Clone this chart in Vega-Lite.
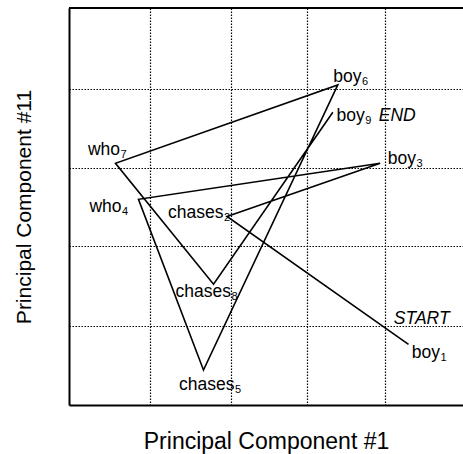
{
  "$schema": "https://vega.github.io/schema/vega-lite/v6.json",
  "width": 394,
  "height": 397,
  "autosize": "none",
  "padding": {"left": 69, "top": 8, "right": 0, "bottom": 49},
  "background": "white",
  "config": {"view": {"stroke": null}, "font": "Liberation Sans"},
  "datasets": {
    "path": [
      {"step": 1, "word": "boy", "pc1": 4.325, "pc11": 0.768, "lx": 4.726, "ly": 0.601},
      {"step": 2, "word": "chases", "pc1": 2.013, "pc11": 2.386, "lx": 1.968, "ly": 2.373},
      {"step": 3, "word": "boy", "pc1": 3.964, "pc11": 3.059, "lx": 4.42, "ly": 3.051},
      {"step": 4, "word": "who", "pc1": 0.885, "pc11": 2.604, "lx": 0.669, "ly": 2.449},
      {"step": 5, "word": "chases", "pc1": 1.713, "pc11": 0.443, "lx": 2.108, "ly": 0.184},
      {"step": 6, "word": "boy", "pc1": 3.424, "pc11": 4.051, "lx": 3.726, "ly": 4.089},
      {"step": 7, "word": "who", "pc1": 0.592, "pc11": 3.059, "lx": 0.65, "ly": 3.165},
      {"step": 8, "word": "chases", "pc1": 1.841, "pc11": 1.528, "lx": 2.064, "ly": 1.373},
      {"step": 9, "word": "boy", "pc1": 3.361, "pc11": 3.705, "lx": 3.768, "ly": 3.601}
    ],
    "notes": [
      {"note": "START", "nx": 4.138, "ny": 1.025},
      {"note": "END", "nx": 3.946, "ny": 3.601}
    ],
    "frame": [
      {"edge": "top", "pc11": 5.025}
    ]
  },
  "layer": [
    {
      "data": {"name": "path"},
      "mark": {"type": "line", "color": "black", "strokeWidth": 1.6},
      "encoding": {
        "x": {
          "field": "pc1", "type": "quantitative",
          "scale": {"domain": [0, 5.019], "nice": false, "zero": false},
          "axis": {
            "title": "Principal Component #1",
            "values": [1.03, 2.07, 3.03, 4.03],
            "grid": true, "gridColor": "black", "gridDash": [1.5, 1.5], "gridOpacity": 1, "gridWidth": 1.2,
            "ticks": false, "labels": false,
            "domain": true, "domainColor": "black", "domainWidth": 2,
            "titleFont": "Liberation Sans", "titleFontSize": 23, "titleFontWeight": "normal", "titleColor": "black",
            "titleBaseline": "alphabetic", "titlePadding": 43
          }
        },
        "y": {
          "field": "pc11", "type": "quantitative",
          "scale": {"domain": [0, 5.025], "nice": false, "zero": false},
          "axis": {
            "title": "Principal Component #11",
            "values": [1, 2.01, 3, 4],
            "grid": true, "gridColor": "black", "gridDash": [1.5, 1.5], "gridOpacity": 1, "gridWidth": 1.2,
            "ticks": false, "labels": false,
            "domain": true, "domainColor": "black", "domainWidth": 2,
            "titleFont": "Liberation Sans", "titleFontSize": 21, "titleFontWeight": "normal", "titleColor": "black",
            "titleBaseline": "alphabetic", "titlePadding": 39
          }
        },
        "order": {"field": "step", "type": "quantitative"}
      }
    },
    {
      "data": {"name": "frame"},
      "mark": {"type": "rule", "color": "black", "strokeWidth": 2},
      "encoding": {"y": {"field": "pc11", "type": "quantitative", "title": "Principal Component #11"}}
    },
    {
      "data": {"name": "path"},
      "mark": {"type": "text", "align": "right", "baseline": "alphabetic", "fontSize": 17.5, "color": "black", "font": "Liberation Sans"},
      "encoding": {
        "x": {"field": "lx", "type": "quantitative", "title": "Principal Component #1"},
        "y": {"field": "ly", "type": "quantitative", "title": "Principal Component #11"},
        "text": {"field": "word"}
      }
    },
    {
      "data": {"name": "path"},
      "mark": {"type": "text", "align": "left", "baseline": "alphabetic", "fontSize": 11, "dy": 3, "dx": 0.5, "color": "black", "font": "Liberation Sans"},
      "encoding": {
        "x": {"field": "lx", "type": "quantitative", "title": "Principal Component #1"},
        "y": {"field": "ly", "type": "quantitative", "title": "Principal Component #11"},
        "text": {"field": "step"}
      }
    },
    {
      "data": {"name": "notes"},
      "mark": {"type": "text", "align": "left", "baseline": "alphabetic", "fontSize": 17.5, "fontStyle": "italic", "color": "black", "font": "Liberation Sans"},
      "encoding": {
        "x": {"field": "nx", "type": "quantitative", "title": "Principal Component #1"},
        "y": {"field": "ny", "type": "quantitative", "title": "Principal Component #11"},
        "text": {"field": "note"}
      }
    }
  ]
}
